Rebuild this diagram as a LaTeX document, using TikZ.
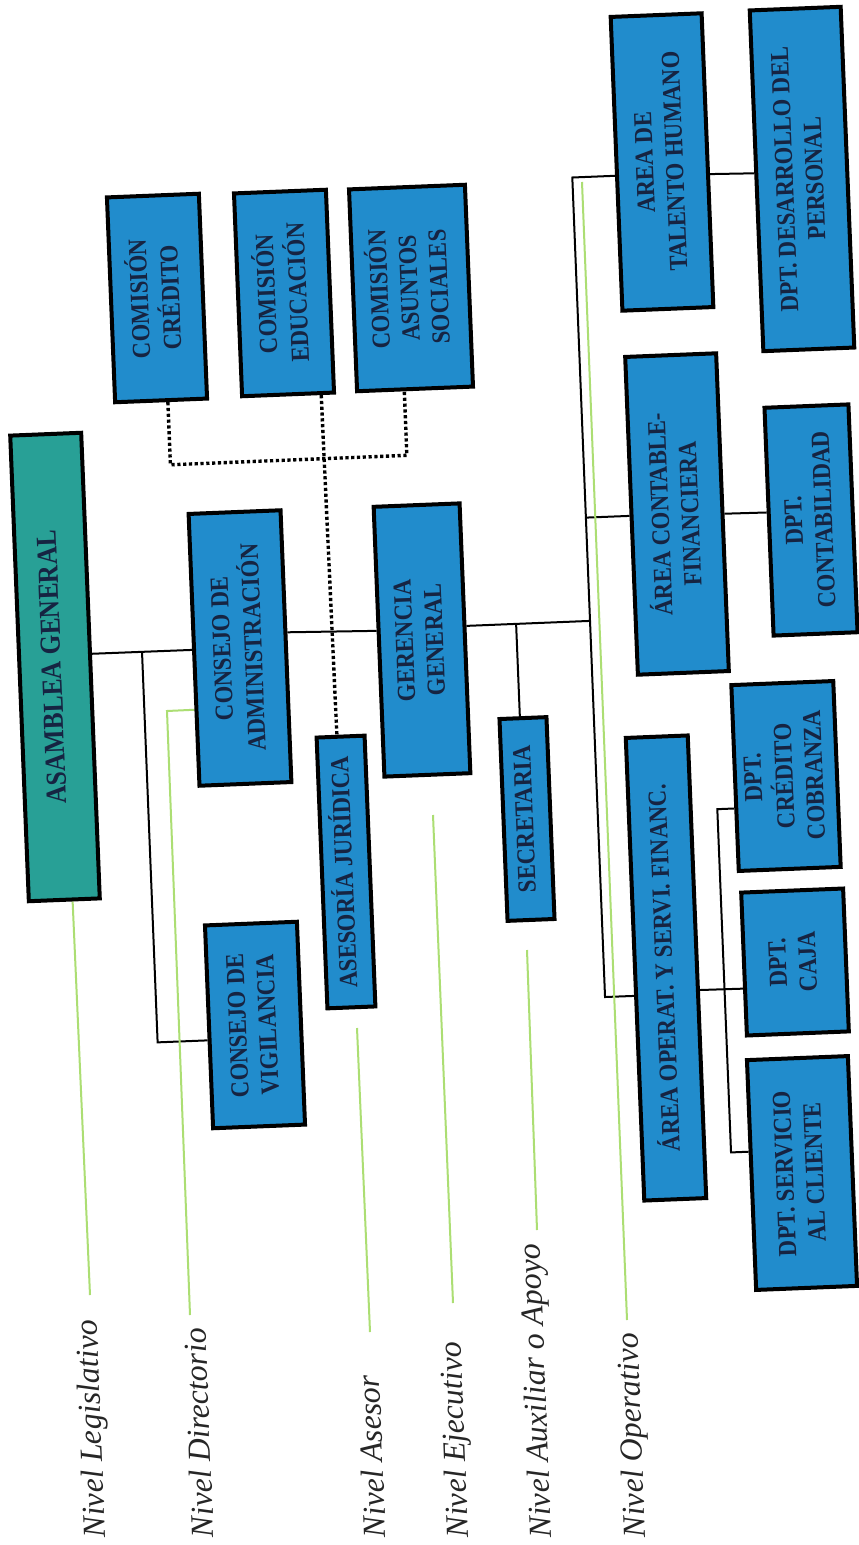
\documentclass[tikz,border=0pt]{standalone}
\usepackage{fontspec}
\usepackage{graphicx}
\usetikzlibrary{calc}
\newfontfamily\boxfont{Liberation Serif}[FakeStretch=0.87]
\newfontfamily\lblfont{Liberation Serif}
\definecolor{boxblue}{RGB}{33,140,204}
\definecolor{boxteal}{RGB}{40,160,150}
\definecolor{txtc}{RGB}{22,36,66}
\definecolor{lvlgreen}{RGB}{172,222,115}
\newcommand{\boxtxt}[1]{\rotatebox{90}{\begin{tabular}{@{}c@{}}#1\end{tabular}}}
\pgfdeclarelayer{back}\pgfdeclarelayer{bg}\pgfsetlayers{back,bg,main}
\begin{document}
\begin{tikzpicture}[x=0.5pt,y=-0.5pt,
  bx/.style 2 args={draw=black, line width=2pt, fill=boxblue, minimum width=#1, minimum height=#2, inner sep=0pt, rotate=2.29, text=txtc, font=\boxfont\bfseries\fontsize{13pt}{15pt}\selectfont},
  conn/.style={line width=1pt, black},
  dotln/.style={line width=1.7pt, black, dash pattern=on 1.6pt off 1.3pt},
  lvl/.style={line width=1pt, lvlgreen},
  lbl/.style={font=\lblfont\itshape\fontsize{16pt}{19pt}\selectfont, rotate=92.29, anchor=west, inner sep=0pt, text=black!85}
]
\useasboundingbox (0,0) rectangle (858,1545);
\begin{pgfonlayer}{back}
\fill[white] (0,0) rectangle (858,1545);
\end{pgfonlayer}

% boxes
\node[bx={35.5pt}{233pt}, fill=boxteal, font=\boxfont\bfseries\fontsize{14.5pt}{16pt}\selectfont] (asam) at (55,667) {\boxtxt{ASAMBLEA GENERAL}};
\node[bx={46pt}{136pt}] (cadm) at (240,648) {\boxtxt{CONSEJO DE\\ADMINISTRACIÓN}};
\node[bx={46pt}{102.5pt}] (ccred) at (157,298) {\boxtxt{COMISIÓN\\CRÉDITO}};
\node[bx={46pt}{101.5pt}] (cedu) at (284,293) {\boxtxt{COMISIÓN\\EDUCACIÓN}};
\node[bx={58pt}{101pt}] (casun) at (411,288) {\boxtxt{COMISIÓN\\ASUNTOS\\SOCIALES}};
\node[bx={43pt}{135pt}] (geren) at (422,640) {\boxtxt{GERENCIA\\GENERAL}};
\node[bx={24pt}{135.5pt}] (aseso) at (346,872) {\boxtxt{ASESORÍA JURÍDICA}};
\node[bx={23.5pt}{101pt}] (secre) at (527,819) {\boxtxt{SECRETARIA}};
\node[bx={46pt}{101.5pt}] (cvig) at (255,1025) {\boxtxt{CONSEJO DE\\VIGILANCIA}};
\node[bx={45.5pt}{147pt}] (atal) at (662,162) {\boxtxt{AREA DE\\TALENTO HUMANO}};
\node[bx={45.5pt}{170.5pt}] (ddes) at (802,179) {\boxtxt{DPT. DESARROLLO DEL\\PERSONAL}};
\node[bx={45.5pt}{159pt}] (acont) at (677,514) {\boxtxt{ÁREA CONTABLE-\\FINANCIERA}};
\node[bx={42pt}{114pt}] (dcont) at (811,520) {\boxtxt{DPT.\\CONTABILIDAD}};
\node[bx={31pt}{231.5pt}] (aop) at (666,968) {\boxtxt{ÁREA OPERAT. Y SERVI. FINANC.}};
\node[bx={51pt}{93pt}] (dcc) at (786,776) {\boxtxt{DPT.\\CRÉDITO\\COBRANZA}};
\node[bx={51pt}{71.5pt}] (dcaja) at (795,962) {\boxtxt{DPT.\\CAJA}};
\node[bx={50.5pt}{115pt}] (dserv) at (802,1173) {\boxtxt{DPT. SERVICIO\\AL CLIENTE}};

% level labels
\node[lbl] (nleg) at (98,1538) {Nivel Legislativo};
\node[lbl] (ndir) at (203,1538) {Nivel Directorio};
\node[lbl] (nase) at (375,1538) {Nivel Asesor};
\node[lbl] (neje) at (461,1538) {Nivel Ejecutivo};
\node[lbl] (naux) at (544,1538) {Nivel Auxiliar o Apoyo};
\node[lbl] (nope) at (638,1538) {Nivel Operativo};

\begin{pgfonlayer}{bg}
% asamblea -> consejo adm, vigilancia
\coordinate (a1) at ($(asam.north east)!0.475!(asam.south east)$);
\coordinate (j1) at ($(a1)!0.5!(cadm.west)$);
\coordinate (vL) at ($(cvig.north west)!0.565!(cvig.south west)$);
\coordinate (vR) at ($(cvig.north east)!0.565!(cvig.south east)$);
\coordinate (k1) at ($(vL)!(j1)!(vR)$);
\draw[conn] (a1) -- (cadm.west);
\draw[conn] (j1) -- (k1) -- (vL);
% consejo -> gerencia
\draw[conn] ($(cadm.north east)!0.45!(cadm.south east)$) -- ($(geren.north west)!0.46!(geren.south west)$);
% trunk
\coordinate (atw) at ($(atal.north west)!0.54!(atal.south west)$);
\coordinate (ate) at ($(atal.north east)!0.54!(atal.south east)$);
\coordinate (t1) at ($(atw)!-0.45!(ate)$);
\coordinate (t1b) at ($(t1)+(atal.south)-(atal.north)$);
\coordinate (g1) at ($(geren.north east)!0.455!(geren.south east)$);
\coordinate (gt) at ($(t1)!(g1)!(t1b)$);
\coordinate (ct) at ($(t1)!(acont.west)!(t1b)$);
\coordinate (aow) at ($(aop.north west)!0.557!(aop.south west)$);
\coordinate (t2) at ($(t1)!(aow)!(t1b)$);
\draw[conn] (atw) -- (t1) -- (t2) -- (aow);
\draw[conn] (g1) -- (gt);
\draw[conn] (ct) -- (acont.west);
% secretaria
\coordinate (sN) at ($(secre.north west)!0.44!(secre.north east)$);
\coordinate (s0) at ($(g1)!(sN)!(gt)$);
\draw[conn] (s0) -- (sN);
% area -> dpt
\draw[conn] ($(atal.north east)!0.547!(atal.south east)$) -- ($(ddes.north west)!0.478!(ddes.south west)$);
\draw[conn] ($(acont.north east)!0.505!(acont.south east)$) -- ($(dcont.north west)!0.46!(dcont.south west)$);
\draw[conn] ($(aop.north east)!0.55!(aop.south east)$) -- ($(dcaja.north west)!0.667!(dcaja.south west)$);
\coordinate (dccL) at ($(dcc.north west)!0.66!(dcc.south west)$);
\coordinate (dccR) at ($(dcc.north east)!0.66!(dcc.south east)$);
\coordinate (q1) at ($(dccL)!-0.16!(dccR)$);
\coordinate (dsL) at ($(dserv.north west)!0.40!(dserv.south west)$);
\coordinate (dsR) at ($(dserv.north east)!0.40!(dserv.south east)$);
\coordinate (q2) at ($(dsL)!(q1)!(dsR)$);
\draw[conn] (dccL) -- (q1) -- (q2) -- (dsL);
% commissions (dotted)
\coordinate (c1) at ($(ccred.south west)!0.57!(ccred.south east)$);
\coordinate (c4) at ($(casun.south west)!0.41!(casun.south east)$);
\coordinate (c2) at ($(c1)+0.3*(ccred.south)-0.3*(ccred.north)$);
\coordinate (c2h) at ($(c2)+(ccred.east)-(ccred.west)$);
\coordinate (c3) at ($(c2)!(c4)!(c2h)$);
\draw[dotln] (c1) -- (c2) -- (c3) -- (c4);
\draw[dotln] ($(cedu.south west)!0.845!(cedu.south east)$) -- ($(aseso.north west)!0.43!(aseso.north east)$);
% level lines
\coordinate (gl1) at (90,1295);
\draw[lvl] ($(asam.south west)!0.61!(asam.south east)$) -- (gl1);
\coordinate (gd1) at (167,711);
\coordinate (gd2) at (190,1315);
\draw[lvl] ($(cadm.north west)!0.717!(cadm.south west)$) -- (gd1) -- (gd2);
\coordinate (ga1) at (357,1028); \coordinate (ga2) at (370,1332);
\draw[lvl] (ga1) -- (ga2);
\coordinate (ge1) at (433,815); \coordinate (ge2) at (453,1303);
\draw[lvl] (ge1) -- (ge2);
\coordinate (gx1) at (527,950); \coordinate (gx2) at (537,1230);
\draw[lvl] (gx1) -- (gx2);
\coordinate (go1) at (582,182); \coordinate (go2) at (627,1320);
\draw[lvl] (go1) -- (go2);
\end{pgfonlayer}
\end{tikzpicture}
\end{document}
